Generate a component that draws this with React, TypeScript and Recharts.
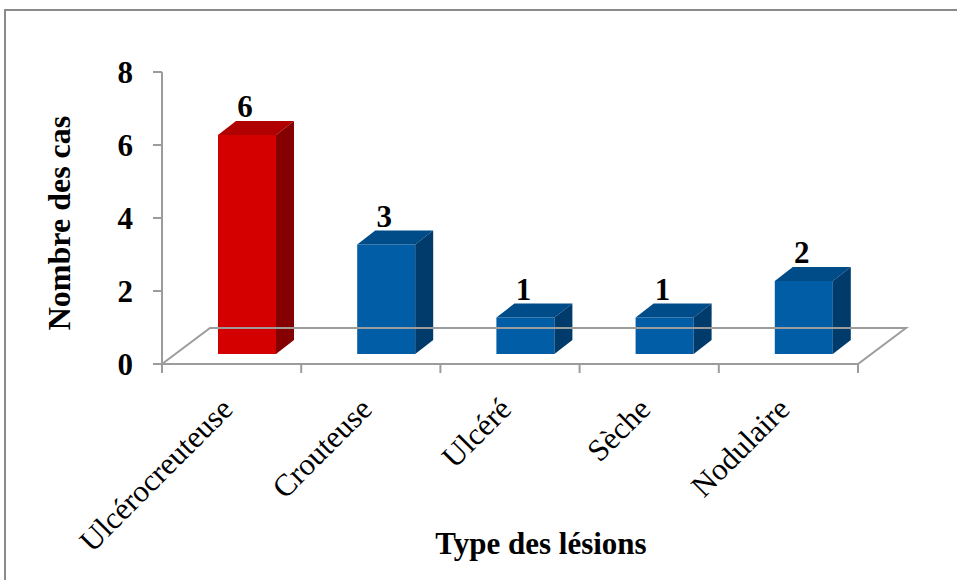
import { Bar, BarChart, Cell, LabelList, ReferenceLine, XAxis, YAxis } from "recharts";

const lesionTypes = ["Ulcérocreuteuse", "Crouteuse", "Ulcéré", "Sèche", "Nodulaire"];
const caseCounts = [6, 3, 1, 1, 2];
const yTicks = [0, 2, 4, 6, 8];

const FRONT = ["#d40000", "#005da6", "#005da6", "#005da6", "#005da6"];
const TOP = ["#b00000", "#004c89", "#004c89", "#004c89", "#004c89"];
const SIDE = ["#850000", "#003b6c", "#003b6c", "#003b6c", "#003b6c"];

const data = lesionTypes.map((name, i) => ({ name, cas: caseCounts[i], idx: i }));

const FONT = "'Liberation Serif', 'Times New Roman', serif";
const GRID = "#9c9c9c";

// 3d look: front face pushed into the floor, plus a top and a side face
const OFF_X = 15;
const OFF_Y = -10;
const DEPTH_X = 18;
const DEPTH_Y = -14;

function Bar3D(props: any) {
  const { x, y, width, height, payload } = props;
  const i = payload.idx;
  const fx = x + OFF_X;
  const fy = y + OFF_Y;
  const top = `${fx},${fy} ${fx + width},${fy} ${fx + width + DEPTH_X},${fy + DEPTH_Y} ${fx + DEPTH_X},${fy + DEPTH_Y}`;
  const side = `${fx + width},${fy} ${fx + width + DEPTH_X},${fy + DEPTH_Y} ${fx + width + DEPTH_X},${fy + height + DEPTH_Y} ${fx + width},${fy + height}`;
  return (
    <g>
      <rect x={fx} y={fy} width={width} height={height} fill={FRONT[i]} />
      <polygon points={top} fill={TOP[i]} />
      <polygon points={side} fill={SIDE[i]} />
    </g>
  );
}

function Floor(props: any) {
  const { x1, y1, x2 } = props;
  const dx = 48;
  const dy = -36;
  const step = (x2 - x1) / lesionTypes.length;
  const ticks = [];
  for (let k = 0; k <= lesionTypes.length; k++) {
    const tx = x1 + k * step;
    ticks.push(<line key={k} x1={tx} y1={y1} x2={tx} y2={y1 + 9} stroke={GRID} strokeWidth={2} />);
  }
  return (
    <g>
      <polyline
        points={`${x1},${y1} ${x1 + dx},${y1 + dy} ${x2 + dx},${y1 + dy} ${x2},${y1} ${x1},${y1}`}
        fill="none"
        stroke={GRID}
        strokeWidth={2}
      />
      {ticks}
    </g>
  );
}

function CategoryTick(props: any) {
  const { x, y, payload } = props;
  const ax = x + 3;
  const ay = y + 47;
  return (
    <text
      x={ax}
      y={ay}
      textAnchor="end"
      transform={`rotate(-45, ${ax}, ${ay})`}
      fontFamily={FONT}
      fontSize={31}
      fill="#000"
    >
      {payload.value}
    </text>
  );
}

function ValueLabel(props: any) {
  const { x, y, width, value } = props;
  return (
    <text
      x={x + OFF_X + width / 2 - 2}
      y={y + OFF_Y + DEPTH_Y - 4}
      textAnchor="middle"
      fontFamily={FONT}
      fontWeight="bold"
      fontSize={31}
      fill="#000"
    >
      {value}
    </text>
  );
}

export default function App() {
  return (
    <div style={{ position: "fixed", left: 0, top: 0, width: 957, height: 580, background: "#fff", overflow: "hidden" }}>
      <div
        style={{
          position: "absolute",
          left: 4,
          top: 9,
          width: 1000,
          height: 700,
          border: "2px solid #8a8a8a",
        }}
      />
      <BarChart
        width={957}
        height={580}
        data={data}
        margin={{ top: 72, right: 99, bottom: 0, left: 0 }}
        style={{ position: "absolute", left: 0, top: 0 }}
      >
        <XAxis
          dataKey="name"
          height={216}
          axisLine={false}
          tickLine={false}
          tickSize={0}
          tickMargin={0}
          interval={0}
          tick={<CategoryTick />}
          label={{
            content: (p: any) => {
              const vb = p.viewBox;
              return (
                <text
                  x={vb.x + vb.width / 2 + 31}
                  y={vb.y + 190}
                  textAnchor="middle"
                  fontFamily={FONT}
                  fontWeight="bold"
                  fontSize={31}
                  fill="#000"
                >
                  Type des lésions
                </text>
              );
            },
          }}
        />
        <YAxis
          width={162}
          domain={[0, 8]}
          ticks={yTicks}
          interval={0}
          axisLine={{ stroke: GRID, strokeWidth: 2 }}
          tickLine={{ stroke: GRID, strokeWidth: 2 }}
          tickSize={9}
          tickMargin={20}
          tick={{ fontFamily: FONT, fontWeight: "bold", fontSize: 31, fill: "#000" }}
          label={{
            content: (p: any) => {
              const vb = p.viewBox;
              const cx = vb.x + 59;
              const cy = vb.y + vb.height / 2 + 5;
              return (
                <text
                  x={cx}
                  y={cy}
                  textAnchor="middle"
                  dominantBaseline="central"
                  transform={`rotate(-90, ${cx}, ${cy})`}
                  fontFamily={FONT}
                  fontWeight="bold"
                  fontSize={32}
                  fill="#000"
                >
                  Nombre des cas
                </text>
              );
            },
          }}
        />
        <ReferenceLine y={0} shape={<Floor />} ifOverflow="visible" />
        <Bar dataKey="cas" barSize={58} shape={<Bar3D />} isAnimationActive={false}>
          {data.map((d, i) => (
            <Cell key={d.name} fill={FRONT[i]} />
          ))}
          <LabelList dataKey="cas" content={<ValueLabel />} />
        </Bar>
      </BarChart>
    </div>
  );
}
